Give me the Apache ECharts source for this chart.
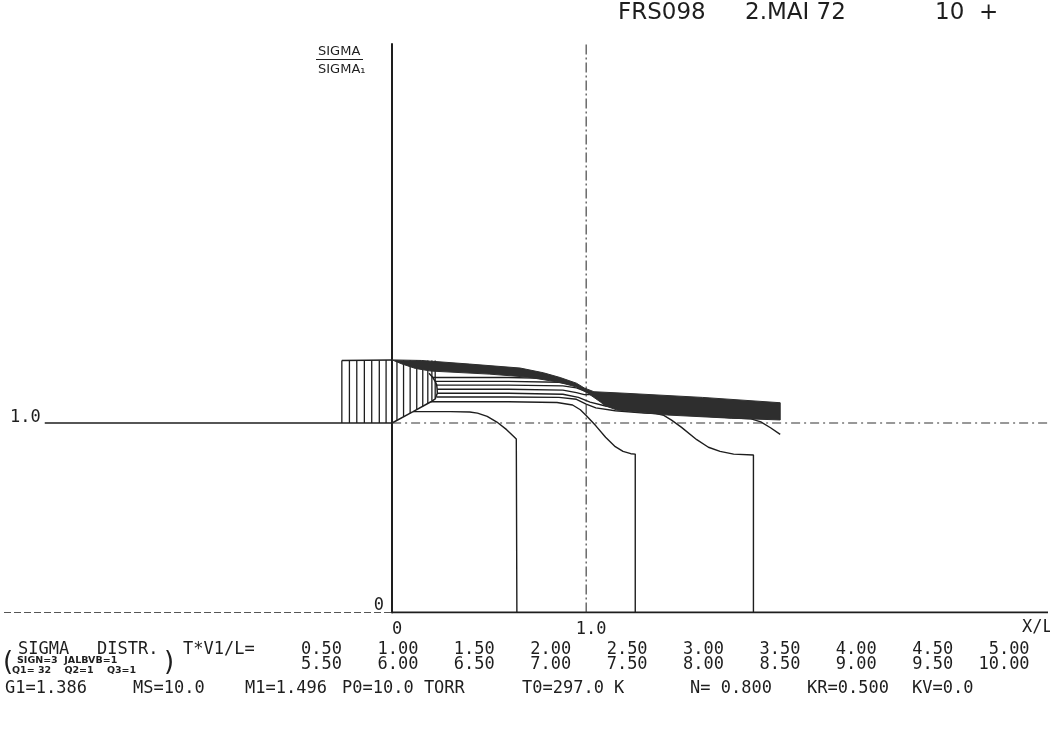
<!DOCTYPE html>
<html>
<head>
<meta charset="utf-8">
<title>SIGMA DISTR.</title>
<script src="https://cdn.jsdelivr.net/npm/echarts@6/dist/echarts.min.js"></script>
<style>
  html, body { margin: 0; padding: 0; background: #fff; }
  #chart { width: 1050px; height: 732px; }
</style>
</head>
<body>
<div id="chart"></div>
<script>
// x = X/L , y = SIGMA/SIGMA1
var xTickValues = [0, 1];
var xTickText = ['0', '1.0'];
var times = [0.5, 1.0, 1.5, 2.0, 2.5, 3.0, 3.5, 4.0, 4.5, 5.0,
             5.5, 6.0, 6.5, 7.0, 7.5, 8.0, 8.5, 9.0, 9.5, 10.0];

// dark band (upper and lower edge)
var bandTop = [[0, 1.333], [0.15, 1.33], [0.4, 1.311], [0.66, 1.29], [0.78, 1.265], [0.866, 1.24],
               [0.95, 1.21], [0.99, 1.185], [1.04, 1.165], [1.2, 1.157], [1.6, 1.135], [2.0, 1.107]];
var bandBottom = [[0, 1.333], [0.05, 1.312], [0.12, 1.288], [0.2, 1.274], [0.5, 1.258], [0.7, 1.242],
                  [0.86, 1.215], [0.95, 1.19], [1.0, 1.163], [1.04, 1.135], [1.072, 1.112], [1.1, 1.09],
                  [1.158, 1.069], [1.33, 1.051], [1.42, 1.042], [1.75, 1.025], [2.0, 1.016]];

// hatch strokes [x, low, high]
var hatchLeft = [[-0.259, 1.0, 1.33], [-0.22, 1.0, 1.33], [-0.182, 1.0, 1.33], [-0.143, 1.0, 1.33],
                 [-0.105, 1.0, 1.33], [-0.066, 1.0, 1.33], [-0.031, 1.0, 1.332]];
var hatchRight = [[0.025, 1.014, 1.332], [0.059, 1.033, 1.332], [0.093, 1.052, 1.331], [0.127, 1.071, 1.331],
                  [0.158, 1.088, 1.331], [0.184, 1.103, 1.330], [0.205, 1.118, 1.330], [0.222, 1.13, 1.330]];
var hatchTop = [[-0.259, 1.33], [0, 1.333]];
var hatchEdge = [[0, 1.0], [0.108, 1.06], [0.2, 1.112], [0.222, 1.127], [0.23, 1.137], [0.233, 1.157],
                 [0.232, 1.178], [0.23, 1.2], [0.222, 1.22], [0.21, 1.24], [0.19, 1.262]];

// distribution curves
var curve1 = [[0.108, 1.06], [0.3, 1.06], [0.4, 1.058], [0.44, 1.052], [0.49, 1.035], [0.54, 1.005],
              [0.59, 0.965], [0.62, 0.935], [0.64, 0.915], [0.643, 0.905], [0.643, 0]];
var curve2 = [[0.2, 1.112], [0.6, 1.112], [0.85, 1.108], [0.93, 1.095], [0.97, 1.07], [1.0, 1.04],
              [1.05, 0.985], [1.1, 0.925], [1.15, 0.875], [1.19, 0.85], [1.23, 0.838], [1.253, 0.836], [1.253, 0]];
var curve3 = [[0.23, 1.137], [0.6, 1.137], [0.86, 1.135], [0.95, 1.125], [1.0, 1.1], [1.05, 1.08],
              [1.15, 1.065], [1.3, 1.052], [1.36, 1.05], [1.4, 1.04], [1.44, 1.015], [1.49, 0.978],
              [1.57, 0.912], [1.63, 0.872], [1.69, 0.85], [1.76, 0.836], [1.862, 0.831], [1.862, 0]];
var curve4 = [[0.233, 1.157], [0.6, 1.157], [0.88, 1.152], [0.96, 1.135], [1.02, 1.11], [1.1, 1.09],
              [1.3, 1.06], [1.5, 1.045], [1.75, 1.028], [1.85, 1.022], [1.9, 1.006], [1.95, 0.975], [2.0, 0.94]];
var curve5 = [[0.232, 1.178], [0.6, 1.178], [0.88, 1.174], [0.95, 1.16], [0.99, 1.15], [1.04, 1.15]];
var curve6 = [[0.23, 1.2], [0.6, 1.2], [0.88, 1.196], [0.95, 1.185], [1.04, 1.15]];
var curve7 = [[0.222, 1.22], [0.6, 1.22], [0.86, 1.215], [0.95, 1.2], [1.04, 1.15]];
var curve8 = [[0.21, 1.24], [0.6, 1.24], [0.8, 1.235], [0.95, 1.2], [1.04, 1.15]];

// frame and reference lines
var axisBottom = [[0, 0], [3.38, 0]];
var baseLeft = [[-2, 0], [0, 0]];
var oneLeft = [[-1.79, 1], [0, 1]];
var oneRight = [[0, 1], [3.38, 1]];
var xOne = [[1, 0], [1, 3]];

var ink = '#1e1e1e';
var font = '"DejaVu Sans", sans-serif';
var mono = '"DejaVu Sans Mono", monospace';

var chart = echarts.init(document.getElementById('chart'));

function line(data, width, type, color) {
    return {
        type: 'line',
        data: data,
        showSymbol: false,
        symbol: 'none',
        silent: true,
        z: 3,
        lineStyle: { color: color || ink, width: width, type: type || 'solid' }
    };
}

function txt(text, left, top, size, family, extra) {
    return {
        type: 'text', left: left, top: top, silent: true,
        style: { text: text, fill: ink, font: (extra || '') + ' ' + size + 'px ' + (family || mono) }
    };
}

var graphics = [
    txt('FRS098', 618, 2, 23, font),
    txt('2.MAI 72', 745, 2, 23, font),
    txt('10  +', 935, 2, 23, font),
    txt('SIGMA', 318, 45, 13, font),
    { type: 'rect', left: 316, top: 59, shape: { width: 47, height: 1 }, style: { fill: ink }, silent: true },
    txt('SIGMA\u2081', 318, 63, 13, font),
    txt('X/L', 1022, 619, 17),
    txt('SIGMA', 18, 641, 17),
    txt('DISTR.', 97, 641, 17),
    txt('T*V1/L=', 183, 641, 17),
    txt('(', 3, 650, 26, font),
    txt('SIGN=3  JALBVB=1', 17, 656, 9.5, font, 'bold'),
    txt('Q1= 32    Q2=1    Q3=1', 12, 666, 9.5, font, 'bold'),
    txt(')', 164, 650, 26, font),
    txt('G1=1.386', 5, 680, 17),
    txt('MS=10.0', 133, 680, 17),
    txt('M1=1.496', 245, 680, 17),
    txt('P0=10.0 TORR', 342, 680, 17),
    txt('T0=297.0 K', 522, 680, 17),
    txt('N= 0.800', 690, 680, 17),
    txt('KR=0.500', 807, 680, 17),
    txt('KV=0.0', 912, 680, 17)
];
times.forEach(function (t, i) {
    var col = i % 10, row = Math.floor(i / 10);
    var el = txt(t.toFixed(2), null, 641 + row * 15, 17);
    delete el.left;
    el.right = 1050 - (342 + col * 76.4);
    graphics.push(el);
});

var option = {
    animation: false,
    backgroundColor: '#fff',
    grid: { left: 4, right: 2, top: 44, bottom: 119.5, containLabel: false, outerBoundsMode: 'none' },
    xAxis: {
        type: 'value', min: -2, max: 3.38, interval: 1,
        axisLine: { show: false },
        axisTick: { show: false },
        splitLine: { show: false },
        axisLabel: {
            color: ink, fontFamily: mono, fontSize: 17, margin: 9,
            padding: [0, 0, 0, 10], showMaxLabel: false,
            formatter: function (v) {
                var i = xTickValues.indexOf(v);
                return i < 0 ? '' : xTickText[i];
            }
        }
    },
    yAxis: [{
        // the SIGMA axis stands at X/L = 0 (2 units right of the grid edge)
        type: 'value', min: 0, max: 3, interval: 1, position: 'left', offset: -388.1,
        axisLine: { show: true, onZero: false, lineStyle: { color: ink, width: 2 } },
        axisTick: { show: false },
        splitLine: { show: false },
        axisLabel: {
            color: ink, fontFamily: mono, fontSize: 17, margin: 8,
            verticalAlign: 'bottom', lineHeight: 14,
            formatter: function (v) { return v === 0 ? '0' : ''; }
        }
    }, {
        type: 'value', min: 0, max: 3, interval: 1, position: 'left',
        axisLine: { show: false, onZero: false },
        axisTick: { show: false },
        splitLine: { show: false },
        axisLabel: {
            inside: true, color: ink, fontFamily: mono, fontSize: 17, margin: 6,
            verticalAlign: 'bottom', lineHeight: 11,
            formatter: function (v) { return v === 1 ? '1.0' : ''; }
        }
    }],
    graphic: graphics,
    series: [
        {
            type: 'custom',
            silent: true,
            z: 4,
            data: bandTop,
            encode: { x: 0, y: 1 },
            renderItem: function (params, api) {
                if (params.dataIndex !== 0) return;
                var pts = bandTop.concat(bandBottom.slice().reverse()).map(function (p) {
                    return api.coord(p);
                });
                return {
                    type: 'polygon',
                    shape: { points: pts },
                    style: { fill: '#2e2e2e', stroke: '#2e2e2e', lineWidth: 1 }
                };
            }
        },
        {
            type: 'custom',
            silent: true,
            z: 3,
            data: hatchLeft.concat(hatchRight),
            encode: { x: 0, y: [1, 2] },
            renderItem: function (params, api) {
                var x = api.value(0);
                var a = api.coord([x, api.value(1)]);
                var b = api.coord([x, api.value(2)]);
                return {
                    type: 'line',
                    shape: { x1: a[0], y1: a[1], x2: b[0], y2: b[1] },
                    style: { stroke: ink, lineWidth: 1.3 }
                };
            }
        },
        line(hatchTop, 1.5),
        line(hatchEdge, 1.5),
        line(curve1, 1.4),
        line(curve2, 1.4),
        line(curve3, 1.4),
        line(curve4, 1.4),
        line(curve5, 1.3),
        line(curve6, 1.3),
        line(curve7, 1.3),
        line(curve8, 1.3),
        line(axisBottom, 2),
        line(baseLeft, 1, [7, 3], '#555'),
        line(oneLeft, 1.6),
        line(oneRight, 1.1, [9, 4, 2, 4], '#333'),
        line(xOne, 1.1, [10, 3, 2, 3], '#333')
    ]
};

chart.setOption(option);
</script>
</body>
</html>
